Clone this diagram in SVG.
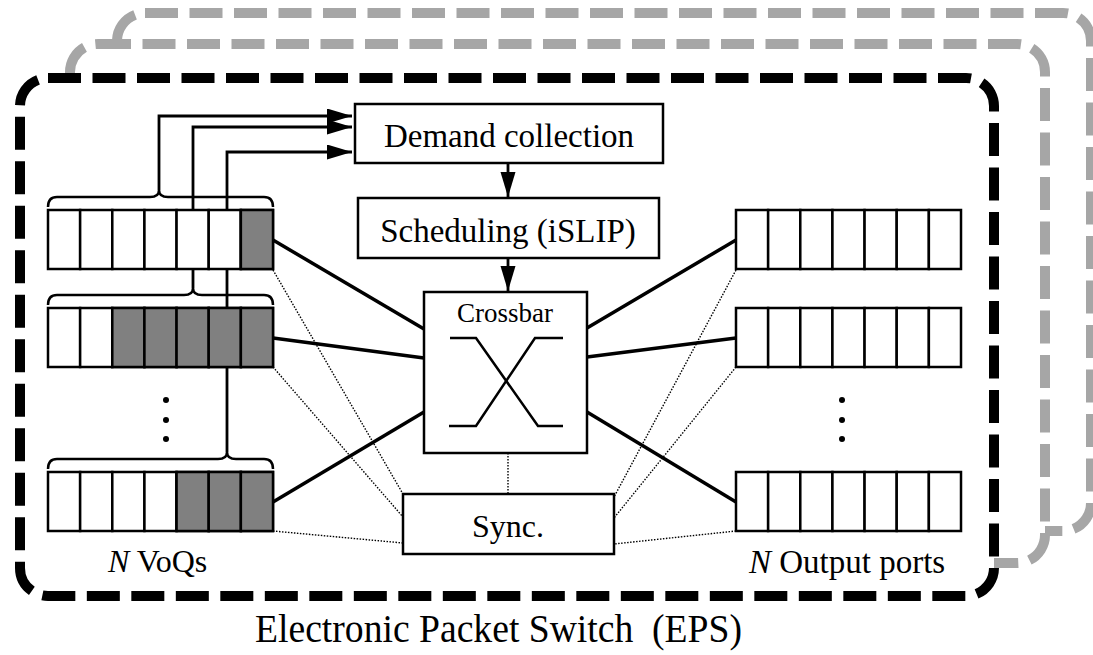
<svg xmlns="http://www.w3.org/2000/svg" width="1093" height="655" viewBox="0 0 1093 655">
  <defs>
    <style>
      .frame { fill: #ffffff; stroke-width: 10; stroke-dasharray: 33 11.5; }
      .back { stroke: #a6a6a6; }
      .front { stroke: #000000; }
      .box { fill: #ffffff; stroke: #000000; stroke-width: 2.5; }
      .cell { fill: #ffffff; stroke: #000000; stroke-width: 2.5; }
      .full { fill: #808080; }
      .brace { fill: none; stroke: #000000; stroke-width: 2.5; }
      .feed { fill: none; stroke: #000000; stroke-width: 2.8; }
      .link { fill: none; stroke: #000000; stroke-width: 3.5; }
      .sync { fill: none; stroke: #000000; stroke-width: 1.4; stroke-dasharray: 1.5 1.5; }
      .xbar { fill: none; stroke: #000000; stroke-width: 2.5; }
      .lbl { font-family: "Liberation Serif", "Times New Roman", serif; fill: #000000; }
    </style>
    <marker id="head" markerUnits="userSpaceOnUse" markerWidth="27" markerHeight="17" refX="25" refY="7.5" orient="auto">
      <path d="M0,0 L25,7.5 L0,15 Z" fill="#000000"/>
    </marker>
    <!-- one queue of seven cells -->
    <g id="queue">
      <rect class="cell" x="0" y="0" width="32.14" height="59"/>
      <rect class="cell" x="32.14" y="0" width="32.14" height="59"/>
      <rect class="cell" x="64.29" y="0" width="32.14" height="59"/>
      <rect class="cell" x="96.43" y="0" width="32.14" height="59"/>
      <rect class="cell" x="128.57" y="0" width="32.14" height="59"/>
      <rect class="cell" x="160.71" y="0" width="32.14" height="59"/>
      <rect class="cell" x="192.86" y="0" width="32.14" height="59"/>
    </g>
  </defs>

  <rect width="1093" height="655" fill="#ffffff"/>

  <!-- stacked switch planes -->
  <g id="planes">
    <rect class="frame back" x="117" y="13" width="974" height="518" rx="28"/>
    <rect class="frame back" x="70" y="44" width="975" height="519" rx="28"/>
    <rect class="frame front" x="20" y="78" width="974" height="518" rx="28"/>
  </g>

  <!-- connectors -->
  <g id="connectors">
    <!-- VoQ demand feeds -->
    <path class="feed" d="M159,190 V116 H352" marker-end="url(#head)"/>
    <path class="feed" d="M193,288 V127 H352" marker-end="url(#head)"/>
    <path class="feed" d="M227,452 V152 H352" marker-end="url(#head)"/>
    <!-- control chain -->
    <path class="feed" d="M508,163 V197" marker-end="url(#head)"/>
    <path class="feed" d="M508,258 V291" marker-end="url(#head)"/>
    <!-- data paths through the crossbar -->
    <line class="link" x1="273" y1="240" x2="424" y2="329"/>
    <line class="link" x1="273" y1="338" x2="424" y2="358"/>
    <line class="link" x1="273" y1="502" x2="424" y2="412"/>
    <line class="link" x1="587" y1="328" x2="736" y2="240"/>
    <line class="link" x1="587" y1="357" x2="736" y2="338"/>
    <line class="link" x1="587" y1="412" x2="736" y2="502"/>
    <!-- synchronisation -->
    <line class="sync" x1="273" y1="270" x2="403" y2="494"/>
    <line class="sync" x1="273" y1="367" x2="403" y2="517"/>
    <line class="sync" x1="273" y1="531" x2="403" y2="543"/>
    <line class="sync" x1="736" y1="270" x2="614" y2="497"/>
    <line class="sync" x1="736" y1="367" x2="614" y2="518"/>
    <line class="sync" x1="736" y1="531" x2="614" y2="544"/>
    <line class="sync" x1="508" y1="453" x2="508" y2="494"/>
  </g>

  <!-- input side: virtual output queues -->
  <g id="voq-1">
    <path class="brace" d="M48,207 Q48,197 57,197 H150 Q159,197 159,190 Q159,197 168,197 H264 Q273,197 273,207"/>
    <use href="#queue" x="48" y="210"/>
    <rect class="cell full" x="240.86" y="210" width="32.14" height="59"/>
  </g>
  <g id="voq-2">
    <path class="brace" d="M48,305 Q48,295 57,295 H184 Q193,295 193,288 Q193,295 202,295 H264 Q273,295 273,305"/>
    <use href="#queue" x="48" y="308"/>
    <rect class="cell full" x="112.29" y="308" width="32.14" height="59"/>
    <rect class="cell full" x="144.43" y="308" width="32.14" height="59"/>
    <rect class="cell full" x="176.57" y="308" width="32.14" height="59"/>
    <rect class="cell full" x="208.71" y="308" width="32.14" height="59"/>
    <rect class="cell full" x="240.86" y="308" width="32.14" height="59"/>
  </g>
  <g id="voq-n">
    <path class="brace" d="M48,469 Q48,459 57,459 H218 Q227,459 227,452 Q227,459 236,459 H264 Q273,459 273,469"/>
    <use href="#queue" x="48" y="472"/>
    <rect class="cell full" x="176.57" y="472" width="32.14" height="59"/>
    <rect class="cell full" x="208.71" y="472" width="32.14" height="59"/>
    <rect class="cell full" x="240.86" y="472" width="32.14" height="59"/>
  </g>
  <g id="voq-dots">
    <circle cx="166" cy="400" r="3"/>
    <circle cx="166" cy="420" r="3"/>
    <circle cx="166" cy="439" r="3"/>
  </g>
  <text class="lbl" x="108" y="572" font-size="32"><tspan font-style="italic">N</tspan> VoQs</text>

  <!-- control blocks -->
  <g id="demand">
    <rect class="box" x="355" y="104" width="308" height="59"/>
    <text class="lbl" x="509" y="147" font-size="33" text-anchor="middle">Demand collection</text>
  </g>
  <g id="scheduler">
    <rect class="box" x="358" y="198" width="301" height="60"/>
    <text class="lbl" x="508" y="242" font-size="33" text-anchor="middle">Scheduling (iSLIP)</text>
  </g>
  <g id="crossbar">
    <rect class="box" x="424" y="292" width="163" height="161"/>
    <text class="lbl" x="505" y="322" font-size="27" text-anchor="middle">Crossbar</text>
    <path class="xbar" d="M450,338 H476 L538,426 H563"/>
    <path class="xbar" d="M563,338 H535 L476,426 H449"/>
  </g>
  <g id="sync">
    <rect class="box" x="403" y="494" width="211" height="60"/>
    <text class="lbl" x="508" y="537" font-size="32" text-anchor="middle">Sync.</text>
  </g>

  <!-- output side -->
  <g id="out-1"><use href="#queue" x="736" y="210"/></g>
  <g id="out-2"><use href="#queue" x="736" y="308"/></g>
  <g id="out-n"><use href="#queue" x="736" y="472"/></g>
  <g id="out-dots">
    <circle cx="842" cy="400" r="3"/>
    <circle cx="842" cy="420" r="3"/>
    <circle cx="842" cy="439" r="3"/>
  </g>
  <text class="lbl" x="749" y="573" font-size="33"><tspan font-style="italic">N</tspan> Output ports</text>

  <text class="lbl" x="255" y="642" font-size="40" textLength="487" lengthAdjust="spacingAndGlyphs" xml:space="preserve">Electronic Packet Switch  (EPS)</text>
</svg>
